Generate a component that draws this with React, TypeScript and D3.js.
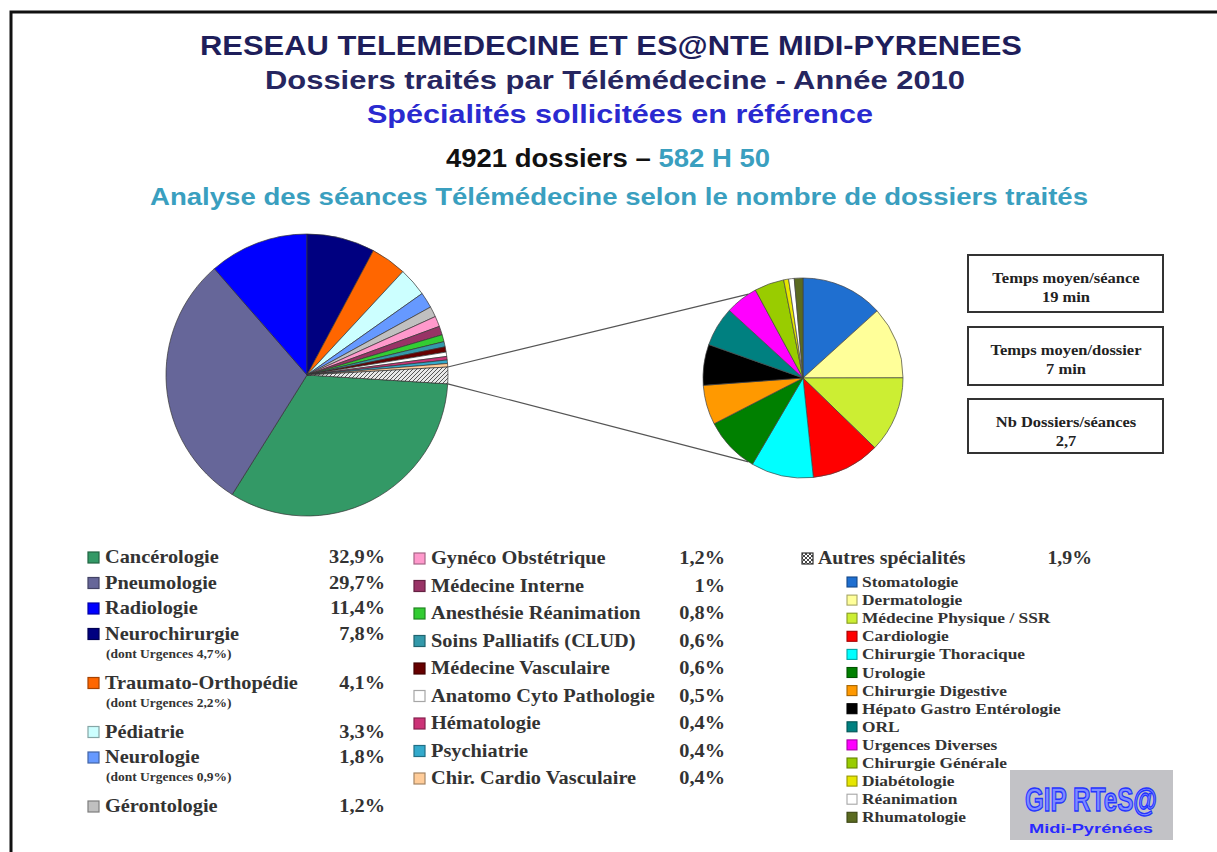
import React from "react";
import * as d3 from "d3";

// main pie: specialities (in legend order)
const mainLabels = [
  "Cancérologie", "Pneumologie", "Radiologie", "Neurochirurgie", "Traumato-Orthopédie",
  "Pédiatrie", "Neurologie", "Gérontologie", "Gynéco Obstétrique", "Médecine Interne",
  "Anesthésie Réanimation", "Soins Palliatifs (CLUD)", "Médecine Vasculaire",
  "Anatomo Cyto Pathologie", "Hématologie", "Psychiatrie", "Chir. Cardio Vasculaire",
  "Autres spécialités",
];
const mainValues = [32.9, 29.7, 11.4, 7.8, 4.1, 3.3, 1.8, 1.2, 1.2, 1, 0.8, 0.6, 0.6, 0.5, 0.4, 0.4, 0.4, 1.9];
const mainPct = [
  "32,9%", "29,7%", "11,4%", "7,8%", "4,1%", "3,3%", "1,8%", "1,2%", "1,2%", "1%",
  "0,8%", "0,6%", "0,6%", "0,5%", "0,4%", "0,4%", "0,4%", "1,9%",
];
const mainNotes = ["", "", "", "(dont Urgences 4,7%)", "(dont Urgences 2,2%)", "", "(dont Urgences 0,9%)", ""];
const mainColors = [
  "#339966", "#666699", "#0000ff", "#000080", "#ff6600", "#ccffff", "#6699ff", "#c0c0c0",
  "#ff99cc", "#993366", "#33cc33", "#3399aa", "#660000", "#ffffff", "#cc3377", "#33aacc",
  "#ffcc99", "url(#hatch)",
];

// small pie: detail of "Autres spécialités"
const otherLabels = [
  "Stomatologie", "Dermatologie", "Médecine Physique / SSR", "Cardiologie", "Chirurgie Thoracique",
  "Urologie", "Chirurgie Digestive", "Hépato Gastro Entérologie", "ORL", "Urgences Diverses",
  "Chirurgie Générale", "Diabétologie", "Réanimation", "Rhumatologie",
];
const otherValues = [13.3, 11.7, 12.3, 11.1, 10.1, 9, 6.4, 6.6, 6.4, 5.3, 4.8, 0.8, 0.9, 1.4];
const otherColors = [
  "#1f6fd0", "#ffff99", "#ccee33", "#ff0000", "#00ffff", "#008000", "#ff9900", "#000000",
  "#008080", "#ff00ff", "#99cc00", "#e6e600", "#ffffff", "#5a6a20",
];

const infoTitles = ["Temps moyen/séance", "Temps moyen/dossier", "Nb Dossiers/séances"];
const infoValues = ["19 min", "7 min", "2,7"];

const W = 1217;
const H = 852;
const serif = "'Liberation Serif', 'Times New Roman', serif";
const sans = "'Liberation Sans', Arial, sans-serif";

export default function App() {
  // big pie
  const cx = 307, cy = 375, r = 141;
  const total = d3.sum(mainValues);
  const start = 2 * Math.PI * (1 - d3.sum(mainValues.slice(0, 3)) / total);
  const mainArcs = d3.pie<number>().sort(null).startAngle(start).endAngle(start + 2 * Math.PI)(mainValues);
  const mainArc = d3.arc<d3.PieArcDatum<number>>().innerRadius(0).outerRadius(r);

  // small pie
  const scx = 803, scy = 378, sr = 100;
  const otherArcs = d3.pie<number>().sort(null)(otherValues);
  const otherArc = d3.arc<d3.PieArcDatum<number>>().innerRadius(0).outerRadius(sr);

  // connector lines from the "Autres" slice to the detail pie
  const autres = mainArcs[mainArcs.length - 1];
  const onCircle = (x: number, y: number, rad: number, a: number) => [x + rad * Math.sin(a), y - rad * Math.cos(a)];
  const p1 = onCircle(cx, cy, r, autres.startAngle);
  const p2 = onCircle(cx, cy, r, autres.endAngle);
  const q1 = onCircle(scx, scy, sr, (327 * Math.PI) / 180);
  const q2 = onCircle(scx, scy, sr, (213 * Math.PI) / 180);

  const swatchStroke = (c: string) => (c.startsWith("url") ? "#333" : d3.color(c)!.darker(1.2).formatHex());

  // legend column 1 rows (with sub notes)
  const col1: { i: number; y: number }[] = [];
  let y = 557;
  for (let i = 0; i < 8; i++) {
    col1.push({ i, y });
    y += mainNotes[i] ? 49 : 25.5;
  }
  const col2 = d3.range(8, 17).map((i, k) => ({ i, y: 558 + k * 27.5 }));

  const lbl = (x: number, yy: number, sx = 1.1) => `translate(${x},${yy}) scale(${sx},1)`;

  return (
    <svg width={W} height={H} style={{ position: "absolute", left: 0, top: 0, background: "#fff" }}>
      <defs>
        <pattern id="hatch" width="4" height="4" patternUnits="userSpaceOnUse">
          <rect width="4" height="4" fill="#e8e8e8" />
          <path d="M0,4 L4,0 M-1,1 L1,-1 M3,5 L5,3" stroke="#555" strokeWidth="1" />
        </pattern>
        <pattern id="cross" width="4" height="4" patternUnits="userSpaceOnUse">
          <rect width="4" height="4" fill="#fff" />
          <path d="M0,0 L4,4 M4,0 L0,4" stroke="#333" strokeWidth="0.9" />
        </pattern>
      </defs>

      {/* frame */}
      <path d={`M11,${H} V12 H${W}`} fill="none" stroke="#111" strokeWidth={3} />

      {/* titles */}
      <g fontFamily={sans} fontWeight="bold" textAnchor="middle">
        <text x={611} y={55} fontSize={27} fill="#1e1e5a" textLength={822} lengthAdjust="spacingAndGlyphs">
          RESEAU TELEMEDECINE ET ES@NTE MIDI-PYRENEES
        </text>
        <text x={615} y={89} fontSize={25} fill="#262660" textLength={700} lengthAdjust="spacingAndGlyphs">
          Dossiers traités par Télémédecine - Année 2010
        </text>
        <text x={620} y={123} fontSize={25} fill="#2a2ad0" textLength={506} lengthAdjust="spacingAndGlyphs">
          Spécialités sollicitées en référence
        </text>
        <text x={608} y={167} fontSize={25} fill="#111" textLength={324} lengthAdjust="spacingAndGlyphs">
          4921 dossiers – <tspan fill="#3a9fbf">582 H 50</tspan>
        </text>
        <text x={619} y={205} fontSize={23} fill="#3a9fbf" textLength={938} lengthAdjust="spacingAndGlyphs">
          Analyse des séances Télémédecine selon le nombre de dossiers traités
        </text>
      </g>

      {/* main pie */}
      <g transform={`translate(${cx},${cy})`}>
        {mainArcs.map((a, i) => (
          <path key={i} d={mainArc(a)!} fill={mainColors[i]} stroke="#333" strokeWidth={0.7} />
        ))}
      </g>

      {/* connectors */}
      <line x1={p1[0]} y1={p1[1]} x2={q1[0]} y2={q1[1]} stroke="#555" strokeWidth={1.2} />
      <line x1={p2[0]} y1={p2[1]} x2={q2[0]} y2={q2[1]} stroke="#555" strokeWidth={1.2} />

      {/* detail pie */}
      <g transform={`translate(${scx},${scy})`}>
        {otherArcs.map((a, i) => (
          <path key={i} d={otherArc(a)!} fill={otherColors[i]} stroke="#444" strokeWidth={0.7} />
        ))}
      </g>

      {/* info boxes */}
      {infoTitles.map((t, i) => {
        const top = [255, 327, 399][i];
        const hgt = [57, 58, 54][i];
        return (
          <g key={t} fontFamily={serif} fontWeight="bold" fill="#222" textAnchor="middle">
            <rect x={968} y={top} width={195} height={hgt} fill="#fff" stroke="#333" strokeWidth={2} />
            <text transform={lbl(1066, top + 28)} fontSize={15}>{t}</text>
            <text transform={lbl(1066, top + 47)} fontSize={15}>{infoValues[i]}</text>
          </g>
        );
      })}

      {/* legend column 1 */}
      <g fontFamily={serif} fontWeight="bold" fill="#333">
        {col1.map(({ i, y }) => (
          <g key={i}>
            <rect x={88} y={y - 5} width={11} height={11} fill={mainColors[i]} stroke={swatchStroke(mainColors[i])} strokeWidth={1.2} />
            <text transform={lbl(105, y + 6)} fontSize={18.5}>{mainLabels[i]}</text>
            <text transform={lbl(385, y + 6)} fontSize={18.5} textAnchor="end">{mainPct[i]}</text>
            {mainNotes[i] && <text transform={lbl(106, y + 24, 1.08)} fontSize={12.5}>{mainNotes[i]}</text>}
          </g>
        ))}
      </g>

      {/* legend column 2 */}
      <g fontFamily={serif} fontWeight="bold" fill="#333">
        {col2.map(({ i, y }) => (
          <g key={i}>
            <rect x={414} y={y - 5} width={11} height={11} fill={mainColors[i]} stroke={swatchStroke(mainColors[i])} strokeWidth={1.2} />
            <text transform={lbl(431, y + 6)} fontSize={18.5}>{mainLabels[i]}</text>
            <text transform={lbl(725, y + 6)} fontSize={18.5} textAnchor="end">{mainPct[i]}</text>
          </g>
        ))}
      </g>

      {/* legend column 3: autres spécialités */}
      <g fontFamily={serif} fontWeight="bold" fill="#333">
        <rect x={802} y={553} width={11} height={11} fill="url(#cross)" stroke="#333" strokeWidth={1.2} />
        <text transform={lbl(818, 564)} fontSize={18}>{mainLabels[17]}</text>
        <text transform={lbl(1092, 564)} fontSize={18} textAnchor="end">{mainPct[17]}</text>
        {otherLabels.map((l, k) => {
          const yy = 582 + k * 18.1;
          return (
            <g key={l}>
              <rect x={847} y={yy - 5} width={10} height={10} fill={otherColors[k]} stroke={swatchStroke(otherColors[k])} strokeWidth={1.1} />
              <text transform={lbl(862, yy + 5, 1.12)} fontSize={15.5}>{l}</text>
            </g>
          );
        })}
      </g>

      {/* logo */}
      <g>
        <rect x={1010} y={770} width={163} height={70} fill="#c2c2c6" />
        <text x={1091} y={811} textAnchor="middle" fontFamily={sans} fontWeight="bold" fontSize={34}
          fill="#7f8cff" stroke="#2434ff" strokeWidth={1.4} textLength={132} lengthAdjust="spacingAndGlyphs">
          GIP RTeS@
        </text>
        <text x={1091} y={833} textAnchor="middle" fontFamily={sans} fontWeight="bold" fontSize={12}
          fill="#2a2aff" textLength={124} lengthAdjust="spacingAndGlyphs">
          Midi-Pyrénées
        </text>
      </g>
    </svg>
  );
}
